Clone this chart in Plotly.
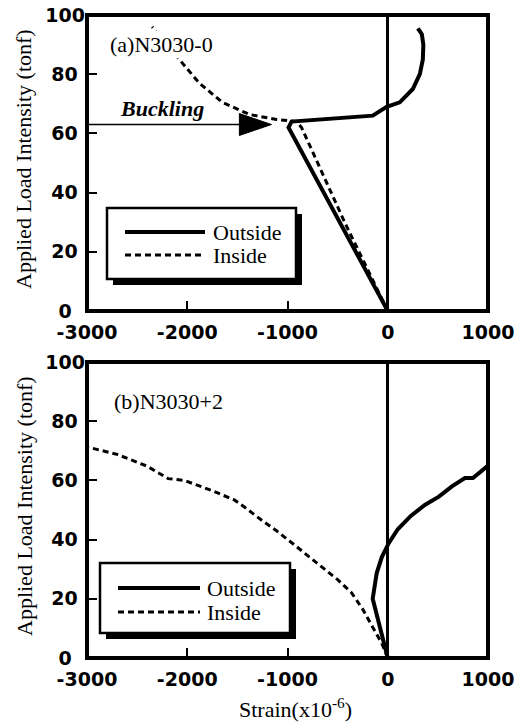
import plotly.graph_objects as go

# ---- data: applied load (tonf) vs. strain (x10^-6) ----
# (a) N3030-0
a_out_strain = [0, -990, -960, -600, -150, -10, 120, 250, 320, 350, 355, 340, 300]
a_out_load = [0, 62, 64, 64.8, 66, 69, 70.5, 75, 80, 85, 90, 93.5, 95.5]
a_in_strain = [0, -430, -860, -910, -1110, -1380, -1650, -1880, -2080, -2230, -2350]
a_in_load = [0, 30, 62, 64, 64.7, 66.4, 70.5, 77, 85, 91, 96]

# (b) N3030+2
b_out_strain = [0, -150, -110, -60, 10, 100, 230, 370, 510, 640, 770, 850, 1000]
b_out_load = [0, 20, 28.7, 34, 38.8, 43.5, 48, 51.7, 54.5, 58, 60.8, 60.8, 65]
b_in_strain = [0, -30, -60, -160, -250, -360, -500, -630, -800, -960, -1110, -1260,
               -1430, -1530, -1750, -2030, -2190, -2400, -2700, -3000]
b_in_load = [0, 2.5, 5, 11, 16.5, 22, 26.5, 30, 34.8, 39, 43, 46.6,
             51, 53.4, 56.5, 60, 60.6, 64.8, 68.8, 71.3]

# buckling marker in panel (a)
buckling_load = 63
buckling_from, buckling_to = -3000, -1160

# axis ticks
strain_range = [-3000, 1000]
load_range = [0, 100]
strain_ticks = [-3000, -2000, -1000, 0, 1000]
strain_tick_labels = ["-3000", "-2000", "-1000", "0", "1000"]
load_ticks = [0, 20, 40, 60, 80, 100]
# load labels are centred in a three-digit column (figure / punctuation spaces pad the right side)
load_tick_labels = ["0\u2007", "20\u2008", "40\u2008", "60\u2008", "80\u2008", "100"]

series_names = ["Outside", "Inside"]

W, H = 514, 725
SERIF = "Liberation Serif"


def fx(p):
    return p / W


def fy(p):
    return 1 - p / H


fig = go.Figure()

solid = dict(color="black", width=4)
dashed = dict(color="black", width=3, dash="6px,4px")

fig.add_trace(go.Scatter(x=a_out_strain, y=a_out_load, mode="lines", line=solid,
                         name=series_names[0], xaxis="x", yaxis="y", showlegend=False))
fig.add_trace(go.Scatter(x=a_in_strain, y=a_in_load, mode="lines", line=dashed,
                         name=series_names[1], xaxis="x", yaxis="y", showlegend=False))
fig.add_trace(go.Scatter(x=b_out_strain, y=b_out_load, mode="lines", line=solid,
                         name=series_names[0], xaxis="x2", yaxis="y2", showlegend=False))
fig.add_trace(go.Scatter(x=b_in_strain, y=b_in_load, mode="lines", line=dashed,
                         name=series_names[1], xaxis="x2", yaxis="y2", showlegend=False))

tickfont = dict(family="DejaVu Sans", size=19, color="black", weight="bold")
tickstyle = dict(ticks="inside", ticklen=10, tickwidth=1.5, tickcolor="black",
                 showgrid=False, showline=False, automargin=False, zeroline=False)

xmain = dict(tickstyle, range=strain_range, tickvals=strain_ticks, ticktext=strain_tick_labels,
             tickfont=tickfont, ticklabeloverflow="allow", ticklabelstandoff=8,
             zeroline=True, zerolinecolor="black", zerolinewidth=3)
ymain = dict(tickstyle, range=load_range, tickvals=load_ticks, ticktext=load_tick_labels,
             tickfont=tickfont, ticklabeloverflow="allow", ticklabelstandoff=1)
# tick-only copies on the top and right edges
xtop = dict(tickstyle, range=strain_range, tickvals=strain_ticks, showticklabels=False, side="top")
yright = dict(tickstyle, range=load_range, tickvals=load_ticks, showticklabels=False, side="right")

xdom = [fx(87), fx(488)]
ydom_a = [fy(311), fy(15)]
ydom_b = [fy(658), fy(362)]

fig.update_layout(
    template="none",
    width=W, height=H,
    margin=dict(l=0, r=0, t=0, b=0, autoexpand=False),
    paper_bgcolor="white", plot_bgcolor="white",
    showlegend=False,
    xaxis=dict(xmain, domain=xdom, anchor="y"),
    yaxis=dict(ymain, domain=ydom_a, anchor="x"),
    xaxis2=dict(xmain, domain=xdom, anchor="y2"),
    yaxis2=dict(ymain, domain=ydom_b, anchor="x2"),
    xaxis3=dict(xtop, domain=xdom, anchor="y", overlaying="x"),
    yaxis3=dict(yright, domain=ydom_a, anchor="x", overlaying="y"),
    xaxis4=dict(xtop, domain=xdom, anchor="y2", overlaying="x2"),
    yaxis4=dict(yright, domain=ydom_b, anchor="x2", overlaying="y2"),
)

shapes = []
annotations = []

# heavy frame around each panel
for xa, ya in (("x", "y"), ("x2", "y2")):
    shapes.append(dict(type="rect", xref=f"{xa} domain", yref=f"{ya} domain", x0=0, x1=1, y0=0, y1=1,
                       line=dict(color="black", width=4), fillcolor="rgba(0,0,0,0)", layer="above"))

# buckling arrow: shaft plus filled head
head_len, head_half = 320, 3.7
shapes.append(dict(type="line", xref="x", yref="y", x0=buckling_from, x1=buckling_to - head_len / 2,
                   y0=buckling_load, y1=buckling_load, line=dict(color="black", width=1.5)))
shapes.append(dict(type="path", xref="x", yref="y",
                   path=f"M {buckling_to},{buckling_load} L {buckling_to - head_len},{buckling_load + head_half} "
                        f"L {buckling_to - head_len},{buckling_load - head_half} Z",
                   fillcolor="black", line=dict(color="black", width=1)))
annotations.append(dict(xref="x", yref="y", x=-2254, y=68.3, text="<b><i>Buckling</i></b>",
                        showarrow=False, font=dict(family=SERIF, size=22, color="black")))

# panel labels
annotations.append(dict(xref="x", yref="y", x=-2790, y=90.2, text="(a)N3030-0", xanchor="left",
                        showarrow=False, bgcolor="white", borderpad=1,
                        font=dict(family=SERIF, size=22, color="black")))
annotations.append(dict(xref="x2", yref="y2", x=-2750, y=86.5, text="(b)N3030+2", xanchor="left",
                        showarrow=False, font=dict(family=SERIF, size=22, color="black")))

# boxed legends with drop shadow
legend_boxes = [
    # box (left, top, right, bottom), sample x-range, row y's, text x
    dict(box=(107, 208, 296, 279), sx=(125, 205), rows=(232, 255), tx=211),
    dict(box=(100, 563, 290, 633), sx=(118, 200), rows=(588, 612), tx=205),
]
for lb in legend_boxes:
    l, t, r, b = lb["box"]
    shapes.append(dict(type="rect", xref="paper", yref="paper", x0=fx(l + 6), x1=fx(r + 6),
                       y0=fy(b + 6), y1=fy(t + 6), fillcolor="black", line=dict(width=0), layer="above"))
    shapes.append(dict(type="rect", xref="paper", yref="paper", x0=fx(l), x1=fx(r),
                       y0=fy(b), y1=fy(t), fillcolor="white", line=dict(color="black", width=2.5),
                       layer="above"))
    for name, row, style in zip(series_names, lb["rows"], [solid, dashed]):
        shapes.append(dict(type="line", xref="paper", yref="paper", x0=fx(lb["sx"][0]), x1=fx(lb["sx"][1]),
                           y0=fy(row), y1=fy(row), line=style, layer="above"))
        annotations.append(dict(xref="paper", yref="paper", x=fx(lb["tx"]), y=fy(row), text=name,
                                xanchor="left", yanchor="middle", showarrow=False,
                                font=dict(family=SERIF, size=22, color="black")))

# axis titles
for yc in (159, 506):
    annotations.append(dict(xref="paper", yref="paper", x=fx(24), y=fy(yc),
                            text="Applied Load Intensity (tonf)", textangle=-90, showarrow=False,
                            xanchor="center", yanchor="middle",
                            font=dict(family=SERIF, size=22, color="black")))
annotations.append(dict(xref="paper", yref="paper", x=fx(295), y=fy(708), text="Strain(x10<sup>-6</sup>)",
                        showarrow=False, xanchor="center", yanchor="middle",
                        font=dict(family=SERIF, size=22, color="black")))

fig.update_layout(shapes=shapes, annotations=annotations)
fig.write_html("out.html")
